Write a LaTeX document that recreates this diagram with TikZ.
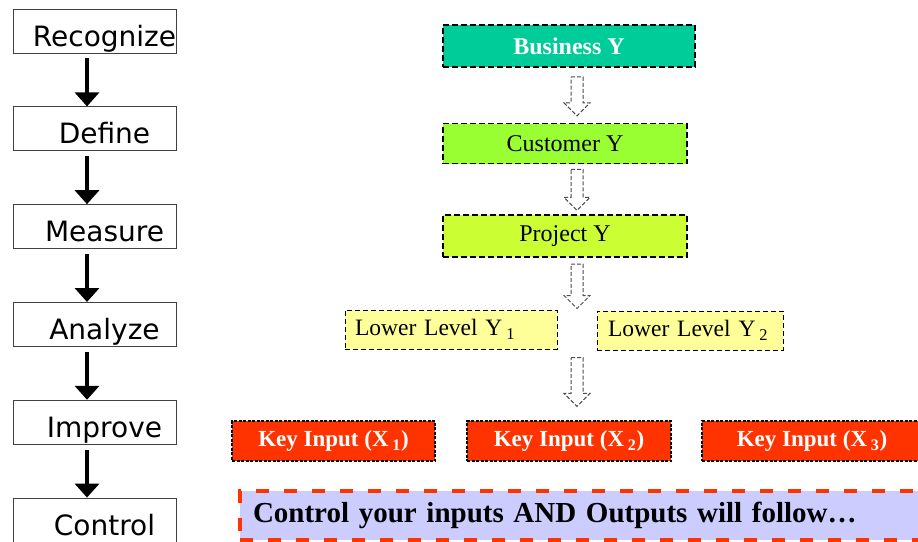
\documentclass[tikz,border=0pt]{standalone}
\usepackage{fontspec}
\setmainfont{Liberation Serif}
\newfontfamily\stagefont{DejaVu Sans}
\usetikzlibrary{arrows.meta,positioning,calc}
\definecolor{bizgreen}{HTML}{00CC99}
\definecolor{custgreen}{HTML}{99FF33}
\definecolor{projgreen}{HTML}{CCFF33}
\definecolor{lowyellow}{HTML}{FFFF99}
\definecolor{keyred}{HTML}{FF3300}
\definecolor{barblue}{HTML}{CCCCFF}
\tikzset{
  stage/.style     = {draw=black!75, line width=0.8pt, minimum width=163pt, minimum height=44pt, inner sep=0pt},
  stagetext/.style = {anchor=base, inner sep=0pt, font=\stagefont\fontsize{28}{31}\selectfont},
  ybox/.style      = {draw=black, line width=1.6pt, dash pattern=on 6pt off 3pt, inner sep=0pt, font=\fontsize{24}{27}\selectfont},
  lowbox/.style    = {draw=black, line width=1pt, dash pattern=on 5pt off 3pt, fill=lowyellow, minimum height=39pt,
                      align=left, inner ysep=0pt, font=\fontsize{23.5}{26}\selectfont},
  keybox/.style    = {draw=black, line width=1.2pt, dash pattern=on 3pt off 1.5pt, fill=keyred, text=white,
                      minimum height=40pt, inner sep=0pt, font=\bfseries\fontsize{23}{26}\selectfont},
  hollow/.style    = {draw=black!70, line width=1pt, dash pattern=on 4pt off 2pt, fill=white}
}
% dashed open arrow pointing down from #1 to #2
\newcommand{\hollowdown}[2]{%
  \draw[hollow] let \p1=(#1), \p2=(#2) in
    (\x1-6pt,\y1) -- (\x1+6pt,\y1) -- (\x1+6pt,\y2+13pt) -- (\x1+13pt,\y2+13pt)
    -- (\x1,\y2) -- (\x1-13pt,\y2+13pt) -- (\x1-6pt,\y2+13pt) -- cycle;}
\begin{document}
\begin{tikzpicture}[x=1pt, y=-1pt,
  >={Triangle[width=24pt,length=14pt]}]
\useasboundingbox (0,0) rectangle (918,541);

% the six stages on the left
\node[stage] (s1) at (94.5,31) {};
\node[stage, below=53pt of s1] (s2) {};
\node[stage, below=53pt of s2] (s3) {};
\node[stage, below=53pt of s3] (s4) {};
\node[stage, below=53pt of s4] (s5) {};
\node[stage, below=53pt of s5] (s6) {};

\foreach \i/\word in {1/Recognize,2/Define,3/Measure,4/Analyze,5/Improve,6/Control}
  \node[stagetext] (t\i) at ([xshift=10pt,yshift=-15pt]s\i.center) {\word};

\foreach \i/\j in {1/2,2/3,3/4,4/5,5/6}
  \draw[->, line width=3.5pt, shorten <=5pt] ([xshift=-7.5pt]s\i.south) -- ([xshift=-7.5pt]s\j.north);

% the chain of Y's
\node[ybox, fill=bizgreen, text=white, minimum width=252pt, minimum height=42pt, font=\bfseries\fontsize{24}{27}\selectfont]
  (bizY) at (569,46) {Business Y};
\node[ybox, fill=custgreen, minimum width=244pt, minimum height=40pt, below=55pt of bizY, xshift=-4pt] (custY) {Customer Y};
\node[ybox, fill=projgreen, minimum width=244pt, minimum height=42pt, below=50pt of custY] (projY) {Project Y};

\node[lowbox, text width=192pt, inner xsep=10pt] (low1) at (451,329.5) {Lower Level Y\,\textsubscript{1}};
\node[lowbox, text width=164pt, inner xsep=11pt] (low2) at (690,330.5) {Lower Level Y\,\textsubscript{2}};

% key inputs
\node[keybox, minimum width=203pt] (key1) at (333.5,441) {Key Input (X\,\textsubscript{1})};
\node[keybox, minimum width=204pt] (key2) at (569,441) {Key Input (X\,\textsubscript{2})};
\node[keybox, minimum width=220pt] (key3) at (812,441) {Key Input (X\,\textsubscript{3})};

% bottom message
\node[draw=keyred, line width=4pt, dash pattern=on 13pt off 15pt, fill=barblue, anchor=north west,
  minimum width=690pt, minimum height=49pt, text width=664pt, inner xsep=13pt, align=left,
  font=\bfseries\fontsize{29}{33}\selectfont] (ctrl) at (238,489) {Control your inputs AND Outputs will follow…};

% open arrows between the levels
\coordinate (col) at (577,0);
\path (col |- bizY.south) ++(0,9) coordinate (h1a);
\path (col |- custY.north) ++(0,-7) coordinate (h1b);
\path (col |- custY.south) ++(0,5) coordinate (h2a);
\path (col |- projY.north) ++(0,-4) coordinate (h2b);
\path (col |- projY.south) ++(0,6) coordinate (h3a);
\path (col |- low1.north) ++(0,-1) coordinate (h3b);
\path (col |- low1.south) ++(0,8) coordinate (h4a);
\path (col |- key2.north) ++(0,-14) coordinate (h4b);
\hollowdown{h1a}{h1b}
\hollowdown{h2a}{h2b}
\hollowdown{h3a}{h3b}
\hollowdown{h4a}{h4b}
\end{tikzpicture}
\end{document}
